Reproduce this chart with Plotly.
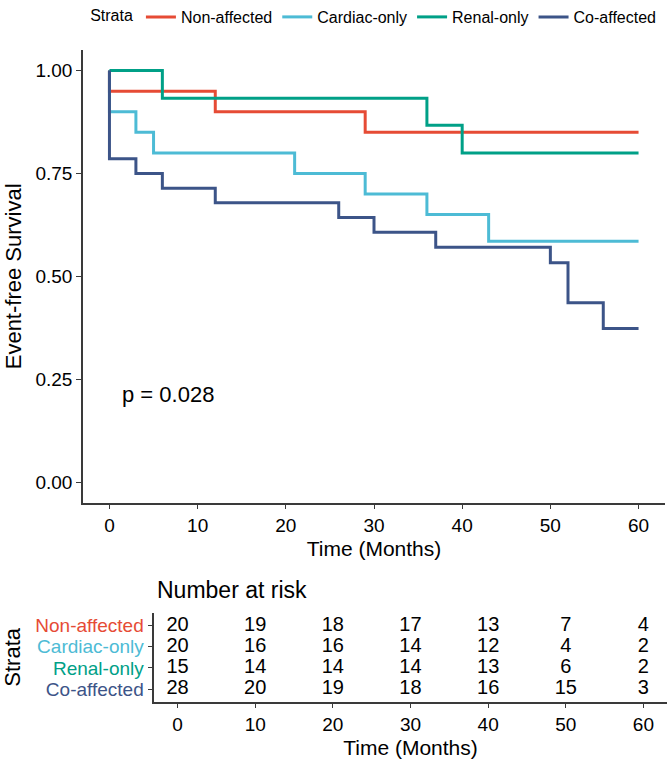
import plotly.graph_objects as go

# ---- data ----
strata = ["Non-affected", "Cardiac-only", "Renal-only", "Co-affected"]
colors = ["#E64B35", "#4DBBD5", "#00A087", "#3C5488"]

non_time = [0, 0, 12, 29, 60]
non_surv = [1.0, 0.95, 0.90, 0.85, 0.85]

card_time = [0, 0, 3, 5, 21, 29, 36, 43, 60]
card_surv = [1.0, 0.90, 0.85, 0.80, 0.75, 0.70, 0.65, 0.585, 0.585]

renal_time = [0, 6, 36, 40, 60]
renal_surv = [1.0, 0.933, 0.867, 0.80, 0.80]

co_time = [0, 0, 3, 6, 12, 26, 30, 37, 50, 52, 56, 60]
co_surv = [1.0, 0.786, 0.75, 0.714, 0.679, 0.643, 0.607, 0.571, 0.533, 0.436, 0.373, 0.373]

risk_times = [0, 10, 20, 30, 40, 50, 60]
risk_non = [20, 19, 18, 17, 13, 7, 4]
risk_card = [20, 16, 16, 14, 12, 4, 2]
risk_renal = [15, 14, 14, 14, 13, 6, 2]
risk_co = [28, 20, 19, 18, 16, 15, 3]

x_ticks = [0, 10, 20, 30, 40, 50, 60]
y_ticks = [0, 0.25, 0.5, 0.75, 1.0]
p_text = "p = 0.028"

# ---- figure ----
W, H = 669, 760
FONT = "Liberation Sans, Arial, sans-serif"
AX = "#3a3a3a"

fig = go.Figure()
curves = [(non_time, non_surv), (card_time, card_surv), (renal_time, renal_surv), (co_time, co_surv)]
for name, col, (t, s) in zip(strata, colors, curves):
    fig.add_trace(go.Scatter(x=t, y=s, mode="lines", name=name,
                             line=dict(color=col, width=3, shape="hv"),
                             xaxis="x", yaxis="y"))

# risk table
risks = [risk_non, risk_card, risk_renal, risk_co]
rows = [4, 3, 2, 1]
for name, r, vals in zip(strata, rows, risks):
    fig.add_trace(go.Scatter(x=risk_times, y=[r] * len(risk_times), mode="text",
                             text=[str(v) for v in vals],
                             textfont=dict(size=20, color="black", family=FONT),
                             showlegend=False, hoverinfo="skip",
                             xaxis="x2", yaxis="y2"))

def px_x(p):
    return p / W

def px_y(p):
    return 1 - p / H

axis_common = dict(showline=True, linecolor=AX, linewidth=1.5, ticks="outside",
                   ticklen=5, tickwidth=1.3, tickcolor=AX, showgrid=False, zeroline=False,
                   tickfont=dict(size=19, color="black", family=FONT))

fig.update_layout(
    width=W, height=H,
    margin=dict(l=0, r=0, t=0, b=0),
    paper_bgcolor="white", plot_bgcolor="white",
    font=dict(family=FONT, color="black"),
    xaxis=dict(domain=[px_x(83), px_x(665)], range=[-3, 63], tickvals=x_ticks,
               anchor="y",
               title=dict(text="Time (Months)", font=dict(size=21), standoff=6),
               **axis_common),
    yaxis=dict(domain=[px_y(502.7), px_y(50)], range=[-0.05, 1.05], tickvals=y_ticks,
               tickformat=".2f", anchor="x",
               title=dict(text="Event-free Survival", font=dict(size=22), standoff=8),
               **axis_common),
    xaxis2=dict(domain=[px_x(154.3), px_x(666.7)], range=[-3, 63], tickvals=x_ticks,
                anchor="y2",
                title=dict(text="Time (Months)", font=dict(size=21), standoff=6),
                **axis_common),
    yaxis2=dict(domain=[px_y(701.7), px_y(613)], range=[0.4, 4.6], tickvals=rows,
                ticktext=[f'<span style="color:{c}">{n}</span>' for n, c in zip(strata, colors)],
                anchor="x2",
                title=dict(text="Strata", font=dict(size=22), standoff=10),
                **axis_common),
    legend=dict(orientation="h", x=0.56, xanchor="center", y=1, yanchor="top",
                title=dict(text="Strata", font=dict(size=16)),
                font=dict(size=16), itemwidth=30, tracegroupgap=0),
    annotations=[
        dict(text=p_text, x=1.2, y=0.212, xref="x", yref="y", xanchor="left", yanchor="middle",
             showarrow=False, font=dict(size=22, color="black")),
        dict(text="Number at risk", x=px_x(155), y=px_y(590), xref="paper", yref="paper",
             xanchor="left", yanchor="middle", showarrow=False,
             font=dict(size=23, color="black")),
    ],
)

fig.write_html("out.html")
